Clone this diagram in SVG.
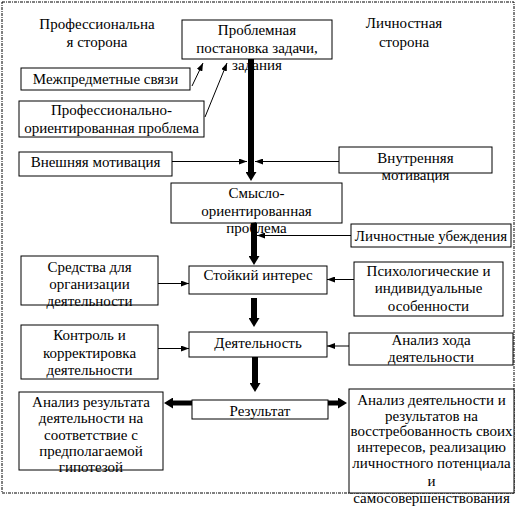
<svg xmlns="http://www.w3.org/2000/svg" width="516" height="508" viewBox="0 0 516 508">
<style>
text{font-family:'Liberation Serif','Times New Roman',serif;font-size:15px;fill:#000;text-anchor:middle}
.box{fill:#fff;stroke:#000;stroke-width:1}
.thin{stroke:#000;stroke-width:1;fill:none}
.thick{stroke:#000;stroke-width:6;fill:none}
.hor{stroke-width:5}
</style>
<defs>
<marker id="a" viewBox="0 0 8 6" markerWidth="8" markerHeight="6" refX="8" refY="3" orient="auto" markerUnits="userSpaceOnUse"><path d="M0,0 L8,3 L0,6 z" fill="#000"/></marker>
<marker id="t" viewBox="0 0 9 11" markerWidth="9" markerHeight="11" refX="0" refY="5.5" orient="auto" markerUnits="userSpaceOnUse"><path d="M0,0 L9,5.5 L0,11 z" fill="#000"/></marker>
</defs>
<rect x="2" y="2" width="512" height="491" fill="#fff" stroke="#000" stroke-width="1" stroke-dasharray="3 1 1 1"/>
<g id="label-prof"><text x="97" y="29">Профессиональна</text><text x="97" y="47">я сторона</text></g>
<g id="label-lich"><text x="404" y="28">Личностная</text><text x="404" y="47">сторона</text></g>
<g id="n-problem"><rect class="box" x="182" y="20" width="150" height="39"/><text x="257" y="35">Проблемная</text><text x="257" y="53">постановка задачи,</text><text x="257" y="70">задания</text></g>
<g id="n-mezh"><rect class="box" x="21" y="68" width="169" height="22"/><text x="105.5" y="84">Межпредметные связи</text></g>
<g id="n-prof"><rect class="box" x="19" y="101" width="185" height="36"/><text x="111.5" y="115">Профессионально-</text><text x="111.5" y="133">ориентированная проблема</text></g>
<g id="n-vnesh"><rect class="box" x="19" y="152" width="153" height="24"/><text x="95.5" y="167">Внешняя мотивация</text></g>
<g id="n-vnutr"><rect class="box" x="339" y="147" width="153" height="26"/><text x="415.5" y="163">Внутренняя</text><text x="415.5" y="180">мотивация</text></g>
<g id="n-smysl"><rect class="box" x="171" y="183" width="171" height="40"/><text x="256.5" y="198">Смысло-</text><text x="256.5" y="216">ориентированная</text><text x="256.5" y="233">проблема</text></g>
<g id="n-ubezh"><rect class="box" x="351" y="224" width="160" height="23"/><text x="431" y="241">Личностные убеждения</text></g>
<g id="n-interes"><rect class="box" x="189" y="266" width="138" height="28"/><text x="258" y="280">Стойкий интерес</text></g>
<g id="n-sredstva"><rect class="box" x="21" y="256" width="137" height="49"/><text x="89.5" y="272">Средства для</text><text x="89.5" y="289">организации</text><text x="89.5" y="306">деятельности</text></g>
<g id="n-psych"><rect class="box" x="354" y="262" width="149" height="54"/><text x="428.5" y="276">Психологические и</text><text x="428.5" y="293">индивидуальные</text><text x="428.5" y="311">особенности</text></g>
<g id="n-deyat"><rect class="box" x="189" y="332" width="138" height="25"/><text x="258" y="348">Деятельность</text></g>
<g id="n-kontrol"><rect class="box" x="21" y="325" width="137" height="54"/><text x="89.5" y="340">Контроль и</text><text x="89.5" y="358">корректировка</text><text x="89.5" y="375">деятельности</text></g>
<g id="n-hod"><rect class="box" x="349" y="333" width="164" height="32"/><text x="431" y="345">Анализ хода</text><text x="431" y="362">деятельности</text></g>
<g id="n-result"><rect class="box" x="192" y="400" width="136" height="19"/><text x="260" y="416">Результат</text></g>
<g id="n-analiz-res"><rect class="box" x="19" y="392" width="144" height="78"/><text x="91" y="407">Анализ результата</text><text x="91" y="423">деятельности на</text><text x="91" y="440">соответствие с</text><text x="91" y="456">предполагаемой</text><text x="91" y="472">гипотезой</text></g>
<g id="n-analiz-lich"><rect class="box" x="349" y="389" width="165" height="104"/><text x="431.5" y="405">Анализ деятельности и</text><text x="431.5" y="421">результатов на</text><text x="431.5" y="436">восстребованность своих</text><text x="431.5" y="452">интересов, реализацию</text><text x="431.5" y="468">личностного потенциала</text><text x="431.5" y="486">и</text><text x="431.5" y="503">самосовершенствования</text></g>
<g id="connectors">
<line class="thin" x1="192" y1="86" x2="203" y2="63" marker-end="url(#a)"/>
<line class="thin" x1="205" y1="117" x2="227" y2="63" marker-end="url(#a)"/>
<line class="thin" x1="172" y1="161.5" x2="247" y2="161.5" marker-end="url(#a)"/>
<line class="thin" x1="339" y1="161.5" x2="255" y2="161.5" marker-end="url(#a)"/>
<line class="thin" x1="351" y1="235.5" x2="257" y2="235.5" marker-end="url(#a)"/>
<line class="thin" x1="158" y1="283.5" x2="189" y2="283.5" marker-end="url(#a)"/>
<line class="thin" x1="354" y1="279.5" x2="327" y2="279.5" marker-end="url(#a)"/>
<line class="thin" x1="158" y1="348.5" x2="189" y2="348.5" marker-end="url(#a)"/>
<line class="thin" x1="349" y1="346" x2="327" y2="346" marker-end="url(#a)"/>
<line class="thick" x1="251" y1="59" x2="251" y2="172" marker-end="url(#t)"/>
<line class="thick" x1="254" y1="223" x2="254" y2="256" marker-end="url(#t)"/>
<line class="thick" x1="254" y1="298" x2="254" y2="318" marker-end="url(#t)"/>
<line class="thick" x1="255" y1="357" x2="255" y2="383" marker-end="url(#t)"/>
<line class="thick hor" x1="192" y1="403" x2="173" y2="403" marker-end="url(#t)"/>
<line class="thick hor" x1="328" y1="403" x2="338" y2="403" marker-end="url(#t)"/>
</g>
</svg>
